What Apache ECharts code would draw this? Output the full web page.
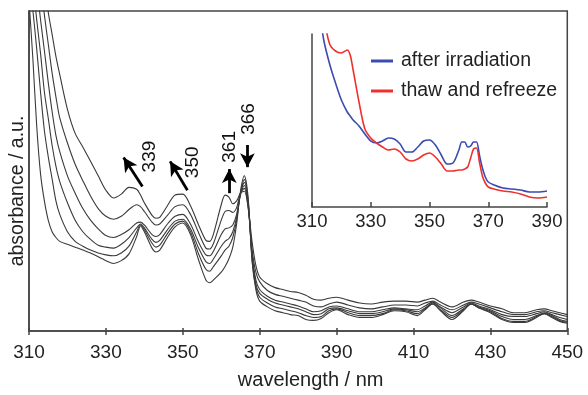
<!DOCTYPE html>
<html>
<head>
<meta charset="utf-8">
<script src="https://cdn.jsdelivr.net/npm/echarts@6/dist/echarts.min.js"></script>
<style>
html,body{margin:0;padding:0;background:#fff;}
#chart{width:588px;height:395px;}
</style>
</head>
<body>
<div id="chart"></div>
<script>
// ---------- main spectra (absorbance, a.u.) ----------
const mainWavelengths = [310,311,312,313,314,315,316,317,318,320,322,324,326,328,330,332,334,336,338,339,340,342,343,344,346,348,350,352,354,356,357,358,360,361,362,363,364,365,366,367,368,369,370,372,374,376,378,380,382,384,386,388,390,393,396,399,402,405,408,411,413,415,417,420,423,425,427,430,433,436,439,442,444,446,448,450];

const spectrum1 = [5.23,4.75,4.33,3.98,3.63,3.31,3.08,2.85,2.66,2.30,2.05,1.91,1.76,1.61,1.46,1.38,1.42,1.49,1.47,1.41,1.33,1.20,1.17,1.18,1.30,1.41,1.42,1.30,1.11,0.94,0.93,1.01,1.31,1.41,1.39,1.32,1.35,1.43,1.45,1.28,0.93,0.68,0.56,0.49,0.45,0.43,0.41,0.40,0.37,0.33,0.32,0.34,0.35,0.32,0.29,0.28,0.30,0.31,0.31,0.30,0.32,0.34,0.30,0.25,0.30,0.32,0.30,0.26,0.23,0.19,0.19,0.22,0.23,0.21,0.19,0.17];
const spectrum2 = [4.83,4.38,3.98,3.63,3.28,2.98,2.68,2.43,2.21,1.95,1.73,1.56,1.40,1.27,1.19,1.16,1.19,1.26,1.31,1.29,1.24,1.13,1.10,1.11,1.20,1.29,1.31,1.21,1.03,0.86,0.85,0.91,1.15,1.24,1.25,1.23,1.28,1.43,1.48,1.28,0.85,0.61,0.51,0.42,0.38,0.36,0.34,0.32,0.30,0.26,0.25,0.28,0.30,0.27,0.24,0.23,0.25,0.27,0.27,0.26,0.29,0.31,0.27,0.22,0.27,0.30,0.28,0.24,0.20,0.17,0.17,0.20,0.21,0.19,0.17,0.15];
const spectrum3 = [4.33,3.93,3.58,3.23,2.91,2.58,2.28,2.03,1.86,1.61,1.43,1.27,1.15,1.06,0.99,0.97,1.00,1.05,1.12,1.13,1.10,1.00,0.98,1.00,1.11,1.19,1.21,1.11,0.93,0.79,0.78,0.83,1.00,1.06,1.07,1.10,1.21,1.41,1.51,1.31,0.81,0.53,0.43,0.36,0.32,0.30,0.28,0.26,0.23,0.20,0.21,0.25,0.26,0.23,0.20,0.20,0.22,0.24,0.23,0.22,0.26,0.30,0.25,0.19,0.25,0.29,0.26,0.22,0.17,0.15,0.15,0.18,0.20,0.17,0.14,0.12];
const spectrum4 = [4.03,3.63,3.23,2.88,2.48,2.21,1.93,1.71,1.55,1.33,1.15,1.03,0.95,0.89,0.87,0.86,0.90,0.97,1.07,1.11,1.07,0.95,0.92,0.94,1.05,1.14,1.16,1.06,0.87,0.72,0.70,0.75,0.88,0.93,0.96,1.03,1.18,1.43,1.54,1.33,0.78,0.49,0.39,0.33,0.29,0.27,0.25,0.23,0.20,0.17,0.18,0.23,0.24,0.21,0.18,0.18,0.20,0.23,0.22,0.20,0.24,0.29,0.24,0.16,0.23,0.28,0.25,0.21,0.15,0.12,0.12,0.16,0.19,0.16,0.12,0.10];
const spectrum5 = [3.73,3.33,2.93,2.48,2.08,1.81,1.58,1.35,1.21,1.03,0.93,0.88,0.84,0.81,0.79,0.78,0.81,0.88,1.03,1.10,1.05,0.91,0.87,0.89,1.01,1.11,1.14,1.03,0.81,0.64,0.62,0.67,0.78,0.84,0.88,0.97,1.15,1.43,1.57,1.35,0.75,0.46,0.35,0.29,0.25,0.23,0.21,0.19,0.16,0.14,0.15,0.21,0.23,0.19,0.16,0.16,0.18,0.22,0.21,0.18,0.23,0.28,0.22,0.14,0.22,0.28,0.24,0.20,0.13,0.10,0.10,0.15,0.18,0.15,0.11,0.09];
const spectrum6 = [3.43,2.83,2.13,1.63,1.35,1.15,1.03,0.97,0.93,0.90,0.87,0.84,0.81,0.77,0.73,0.70,0.73,0.80,0.98,1.09,1.03,0.86,0.82,0.84,0.97,1.08,1.12,1.00,0.75,0.53,0.50,0.53,0.61,0.67,0.75,0.87,1.11,1.45,1.61,1.38,0.73,0.43,0.31,0.25,0.21,0.19,0.17,0.16,0.12,0.11,0.13,0.19,0.22,0.17,0.14,0.14,0.17,0.21,0.20,0.16,0.22,0.28,0.21,0.12,0.21,0.28,0.24,0.19,0.12,0.09,0.09,0.14,0.18,0.14,0.10,0.08];
const mainSpectra = [spectrum1, spectrum2, spectrum3, spectrum4, spectrum5, spectrum6];
const mainTicks = [310,330,350,370,390,410,430,450];

// ---------- inset spectra ----------
const insetWavelengths = [312,314,316,318,320,322,323,324,326,328,330,332,334,336,338,340,342,344,346,348,350,352,354,356,358,360,361,362,363,364,365,366,367,368,369,370,372,375,378,381,384,387,390];
const afterIrradiation = [2.07,1.67,1.43,1.24,1.07,0.95,0.91,0.87,0.81,0.73,0.66,0.64,0.66,0.69,0.68,0.63,0.55,0.55,0.60,0.66,0.67,0.62,0.52,0.43,0.44,0.57,0.65,0.65,0.60,0.61,0.65,0.65,0.52,0.39,0.30,0.25,0.22,0.19,0.18,0.17,0.15,0.15,0.16];
const thawRefreeze = [2.47,1.92,1.63,1.56,1.54,1.57,1.52,1.37,1.05,0.78,0.69,0.64,0.60,0.57,0.58,0.55,0.48,0.46,0.48,0.52,0.54,0.50,0.43,0.36,0.36,0.37,0.37,0.38,0.40,0.49,0.58,0.59,0.45,0.31,0.24,0.20,0.18,0.16,0.15,0.13,0.10,0.09,0.10];
const insetTicks = [310,330,350,370,390];
const insetNames = ['after irradiation','thaw and refreeze'];

// ---------- annotations ----------
const annotLabels = ['339','350','361','366'];
const arrowFrom = [[339.5,1.50],[351.2,1.46],[362.1,1.43],[366.8,1.93]];
const arrowTo   = [[334.6,1.80],[346.7,1.76],[362.1,1.68],[366.8,1.70]];
const labelPos  = [[341.3,1.81],[352.6,1.75],[362.2,1.91],[367.2,2.20]];

const FONT = 'Liberation Sans, Arial, Helvetica, sans-serif';
const AX = '#444';

const chart = echarts.init(document.getElementById('chart'), null, {renderer:'canvas'});

const series = mainSpectra.map((vals, k) => ({
  name: 'spectrum ' + (k+1),
  type: 'line',
  xAxisIndex: 0, yAxisIndex: 0,
  data: mainWavelengths.map((w,i) => [w, vals[i]]),
  symbol: 'none', smooth: 0.3, clip: true, silent: true,
  lineStyle: {color: '#3a3a3a', width: 1.1},
  z: 2
}));

series[0].markLine = {
  silent: true,
  symbol: ['none','arrow'],
  symbolSize: [11, 14],
  label: {show: false},
  lineStyle: {type: 'solid', color: '#000', width: 2.8},
  data: arrowFrom.map((f,i) => [{coord: f}, {coord: arrowTo[i]}])
};
series[0].markPoint = {
  silent: true,
  symbol: 'circle', symbolSize: 1,
  itemStyle: {color: 'rgba(0,0,0,0)'},
  label: {show: true, position: 'inside', rotate: 90, fontSize: 19, color: '#111', fontFamily: FONT, formatter: p => p.name},
  data: labelPos.map((c,i) => ({name: annotLabels[i], coord: c}))
};

series.push({
  name: insetNames[0], type: 'line', xAxisIndex: 2, yAxisIndex: 1,
  data: insetWavelengths.map((w,i) => [w, afterIrradiation[i]]),
  symbol: 'none', smooth: 0.3, clip: true,
  lineStyle: {color: '#3b4bb0', width: 1.6}, itemStyle: {color: '#3b4bb0'}, z: 3
});
series.push({
  name: insetNames[1], type: 'line', xAxisIndex: 2, yAxisIndex: 1,
  data: insetWavelengths.map((w,i) => [w, thawRefreeze[i]]),
  symbol: 'none', smooth: 0.3, clip: true,
  lineStyle: {color: '#f0302c', width: 1.6}, itemStyle: {color: '#f0302c'}, z: 3
});

const option = {
  animation: false,
  backgroundColor: '#fff',
  textStyle: {fontFamily: FONT},
  grid: [
    {left: 28.3, top: 11, width: 539, height: 332, show: true, borderColor: AX, borderWidth: 1.5, backgroundColor: 'transparent'},
    {left: 312, top: 34, width: 235, height: 173, show: false}
  ],
  legend: {
    data: insetNames,
    orient: 'vertical',
    left: 366, top: 46,
    icon: 'rect',
    itemWidth: 22, itemHeight: 3, itemGap: 10,
    textStyle: {fontSize: 19.5, color: '#222', fontFamily: FONT, lineHeight: 20, padding: [0,0,0,3]},
    selectedMode: false
  },
  xAxis: [
    {gridIndex: 0, type: 'value', min: 310, max: 450, interval: 20,
     axisLine: {show: true, lineStyle: {color: AX, width: 1.5}},
     axisTick: {show: true, inside: false, length: 4, customValues: mainTicks, lineStyle: {color: AX, width: 1.5}},
     axisLabel: {show: true, customValues: mainTicks, fontSize: 19, color: '#222', margin: 12, fontFamily: FONT},
     splitLine: {show: false},
     name: 'wavelength / nm', nameLocation: 'middle', nameGap: 39,
     nameTextStyle: {fontSize: 20, color: '#222', fontFamily: FONT, padding: [0,0,0,25]}},
    {gridIndex: 0, type: 'value', min: 310, max: 450, interval: 20, position: 'bottom',
     axisLine: {show: false},
     axisTick: {show: true, inside: true, length: 3, customValues: mainTicks, lineStyle: {color: AX, width: 1.5}},
     axisLabel: {show: false}, splitLine: {show: false}},
    {gridIndex: 1, type: 'value', min: 310, max: 390, interval: 20,
     axisLine: {show: true, lineStyle: {color: AX, width: 1.5}},
     axisTick: {show: true, inside: true, length: 5, customValues: insetTicks, lineStyle: {color: AX, width: 1.5}},
     axisLabel: {show: true, customValues: insetTicks, fontSize: 18.5, color: '#222', margin: 5, fontFamily: FONT},
     splitLine: {show: false}}
  ],
  yAxis: [
    {gridIndex: 0, type: 'value', min: 0, max: 3.32,
     axisLine: {show: true, lineStyle: {color: AX, width: 1.5}},
     axisTick: {show: false}, axisLabel: {show: false}, splitLine: {show: false},
     name: 'absorbance / a.u.', nameLocation: 'middle', nameGap: 1, nameRotate: 90,
     nameTextStyle: {fontSize: 19.5, color: '#222', fontFamily: FONT, padding: [0,40,0,0]}},
    {gridIndex: 1, type: 'value', min: 0, max: 1.73,
     axisLine: {show: true, lineStyle: {color: AX, width: 1.5}},
     axisTick: {show: false}, axisLabel: {show: false}, splitLine: {show: false}}
  ],
  series: series
};
chart.setOption(option);
</script>
</body>
</html>
